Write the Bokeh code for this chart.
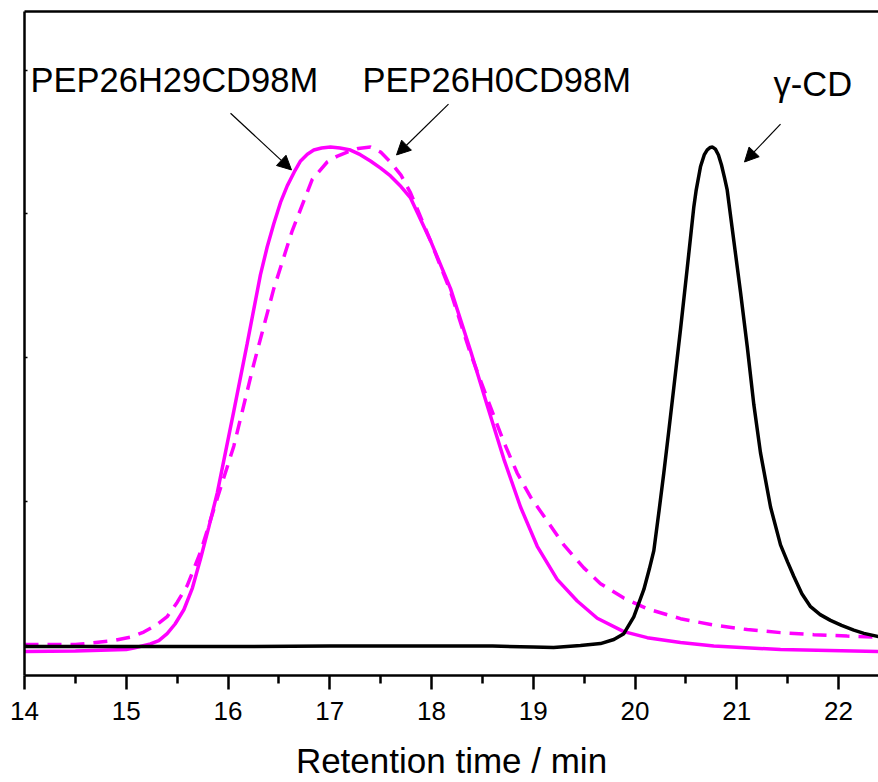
from bokeh.plotting import figure
from bokeh.models import Range1d, LinearAxis, FixedTicker, Arrow, NormalHead, Label
from bokeh.embed import file_html
from bokeh.resources import INLINE

# ---- data (retention time in min, detector response in a.u.) ----
time_h29 = [14.0, 14.5, 15.0, 15.074, 15.238, 15.32, 15.402, 15.48, 15.566, 15.65, 15.730,
            15.81, 15.894, 16.057, 16.189, 16.319, 16.385, 16.450, 16.516, 16.582, 16.65,
            16.713, 16.78, 16.843, 16.92, 17.007, 17.1, 17.204, 17.3, 17.400, 17.5,
            17.597, 17.7, 17.794, 17.990, 18.187, 18.383, 18.547, 18.711, 18.875, 19.039,
            19.235, 19.432, 19.629, 19.890, 20.120, 20.447, 20.774, 21.430, 22.393]
int_h29 = [-0.042, -0.038, -0.028, -0.017, 0.011, 0.035, 0.083, 0.150, 0.249, 0.400, 0.603,
           0.820, 1.060, 1.629, 2.100, 2.578, 2.770, 2.932, 3.080, 3.195, 3.290,
           3.368, 3.415, 3.444, 3.458, 3.465, 3.458, 3.444, 3.412, 3.368, 3.318,
           3.264, 3.190, 3.111, 2.814, 2.481, 2.051, 1.670, 1.296, 0.963, 0.690,
           0.460, 0.310, 0.190, 0.097, 0.055, 0.021, -0.003, -0.028, -0.042]

time_h0 = [14.0, 14.5, 14.878, 15.05, 15.172, 15.29, 15.402, 15.50, 15.599, 15.730, 15.877,
           16.057, 16.254, 16.450, 16.631, 16.828, 16.975, 17.07, 17.172, 17.28, 17.400,
           17.50, 17.597, 17.70, 17.794, 17.990, 18.187, 18.383, 18.547, 18.711, 18.842,
           18.973, 19.137, 19.300, 19.497, 19.661, 19.890, 20.120, 20.447, 20.774, 21.103,
           21.430, 21.757, 22.085, 22.393]
int_h0 = [0.007, 0.007, 0.035, 0.060, 0.094, 0.140, 0.201, 0.300, 0.416, 0.651, 0.984,
          1.386, 1.958, 2.481, 2.883, 3.240, 3.361, 3.400, 3.430, 3.455, 3.465,
          3.430, 3.361, 3.270, 3.146, 2.814, 2.460, 2.030, 1.719, 1.414, 1.199,
          1.033, 0.866, 0.700, 0.540, 0.430, 0.330, 0.256, 0.187, 0.142, 0.111,
          0.090, 0.076, 0.066, 0.058]

time_gcd = [14.0, 15.0, 16.0, 17.0, 18.0, 18.6, 19.0, 19.2, 19.464, 19.661, 19.792,
            19.890, 19.988, 20.087, 20.14, 20.185, 20.235, 20.283, 20.33, 20.381, 20.447,
            20.513, 20.578, 20.600, 20.644, 20.680, 20.710, 20.740, 20.762, 20.790, 20.820,
            20.850, 20.880, 20.906, 20.971, 21.037, 21.103, 21.168, 21.233, 21.332, 21.430,
            21.50, 21.561, 21.64, 21.725, 21.82, 21.921, 22.03, 22.150, 22.25, 22.393]
int_gcd = [-0.007, -0.007, -0.007, -0.003, -0.003, -0.003, -0.010, -0.014, 0.000, 0.014, 0.042,
           0.083, 0.200, 0.390, 0.530, 0.660, 0.930, 1.199, 1.480, 1.791, 2.197,
           2.622, 3.049, 3.160, 3.330, 3.410, 3.445, 3.462, 3.465, 3.450, 3.410,
           3.340, 3.250, 3.167, 2.814, 2.456, 2.079, 1.673, 1.341, 0.963, 0.700,
           0.580, 0.480, 0.360, 0.270, 0.215, 0.175, 0.140, 0.107, 0.085, 0.062]

x_major = [14, 15, 16, 17, 18, 19, 20, 21, 22]
x_minor = [14.5, 15.5, 16.5, 17.5, 18.5, 19.5, 20.5, 21.5]
y_major = [0, 1, 2, 3, 4]

labels_text = ["PEP26H29CD98M", "PEP26H0CD98M", "\u03b3-CD"]
labels_x = [14.059, 17.322, 21.361]
labels_y = [3.93, 3.93, 3.905]
arrow_start_x = [16.025, 18.167, 21.430]
arrow_start_y = [3.700, 3.763, 3.624]
arrow_end_x = [16.624, 17.656, 21.076]
arrow_end_y = [3.306, 3.410, 3.361]

FONT = "Liberation Sans"
MAGENTA = "#FF00FF"

p = figure(width=878, height=782, output_backend="svg", toolbar_location=None,
           x_range=Range1d(14, 22.393), y_range=Range1d(-0.208, 4.407),
           min_border_left=24, min_border_right=0, min_border_top=11, min_border_bottom=105,
           background_fill_color="white", border_fill_color="white")
p.outline_line_color = None
p.grid.visible = False

# bottom axis
xa = p.xaxis[0]
xa.ticker = FixedTicker(ticks=x_major, minor_ticks=x_minor)
xa.axis_label = "Retention time / min"
xa.axis_label_text_font = FONT
xa.axis_label_text_font_size = "35px"
xa.axis_label_text_font_style = "normal"
xa.axis_label_text_color = "black"
xa.axis_label_standoff = 18
xa.major_label_text_font = FONT
xa.major_label_text_font_size = "26px"
xa.major_label_text_color = "black"
xa.major_label_standoff = 12
xa.axis_line_width = 2.5
xa.major_tick_line_width = 2.5
xa.minor_tick_line_width = 2.5
xa.major_tick_in = 0
xa.major_tick_out = 14
xa.minor_tick_in = 0
xa.minor_tick_out = 8

# left axis (ticks only, no labels)
ya = p.yaxis[0]
ya.ticker = FixedTicker(ticks=y_major, minor_ticks=[])
ya.major_label_text_font_size = "10px"
ya.major_label_text_color = None
ya.major_label_standoff = 0
ya.axis_line_width = 2.5
ya.major_tick_line_width = 1.5
ya.major_tick_in = 3
ya.major_tick_out = 0

# top border
top = LinearAxis(ticker=FixedTicker(ticks=[], minor_ticks=[]),
                 major_label_standoff=0,
                 major_tick_line_color=None, minor_tick_line_color=None,
                 axis_line_width=2.5)
p.add_layout(top, "above")

# curves
p.line(time_h0, int_h0, line_color=MAGENTA, line_width=3.5, line_dash="14 9")
p.line(time_h29, int_h29, line_color=MAGENTA, line_width=3.5)
p.line(time_gcd, int_gcd, line_color="black", line_width=3.5)

# annotations
for t, lx, ly in zip(labels_text, labels_x, labels_y):
    p.add_layout(Label(x=lx, y=ly, text=t, text_font=FONT, text_font_size="34.5px",
                       text_color="black", text_baseline="alphabetic", text_align="left"))
for sx, sy, ex, ey in zip(arrow_start_x, arrow_start_y, arrow_end_x, arrow_end_y):
    p.add_layout(Arrow(x_start=sx, y_start=sy, x_end=ex, y_end=ey, line_width=1.2,
                       line_color="black",
                       end=NormalHead(size=14, fill_color="black", line_color="black", line_width=1)))

open("out.html", "w").write(file_html(p, INLINE))
